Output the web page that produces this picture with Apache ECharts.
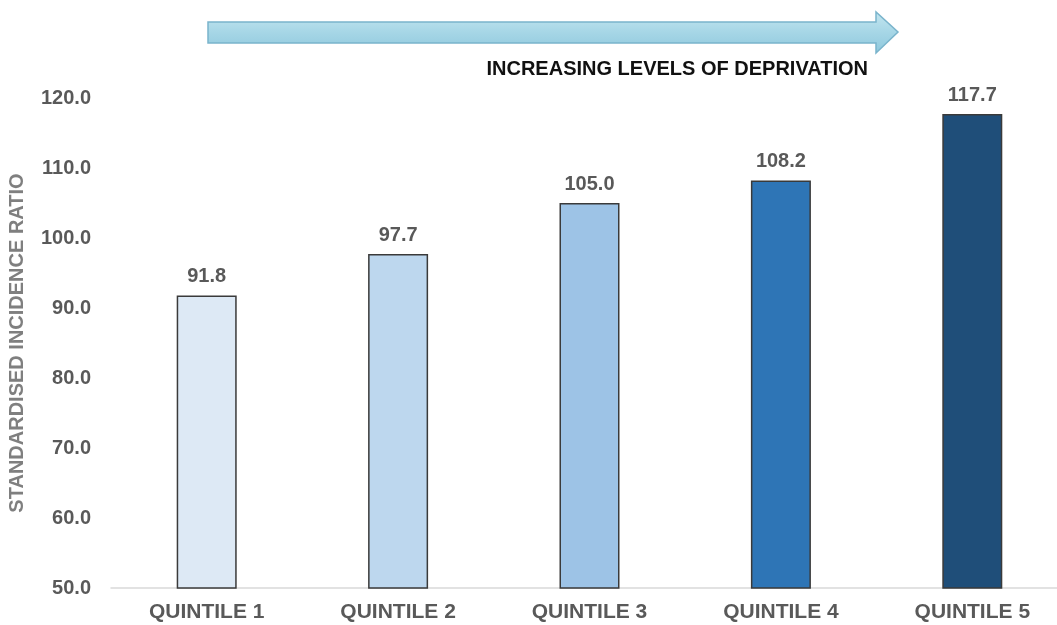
<!DOCTYPE html>
<html>
<head>
<meta charset="utf-8">
<script src="https://cdn.jsdelivr.net/npm/echarts@6/dist/echarts.min.js"></script>
<style>
  html, body { margin: 0; padding: 0; background: #fff; }
  #main { width: 1057px; height: 625px; }
</style>
</head>
<body>
<div id="main"></div>
<script>
var categories = ['QUINTILE 1', 'QUINTILE 2', 'QUINTILE 3', 'QUINTILE 4', 'QUINTILE 5'];
var values = [91.8, 97.7, 105.0, 108.2, 117.7];
var barColors = ['#dde9f5', '#bdd7ee', '#9dc3e6', '#2e75b6', '#1f4e79'];
var yTicks = { min: 50, max: 120, interval: 10 };

var labelGray = '#595959';
var fontFam = '"Liberation Sans", Arial, sans-serif';

var myChart = echarts.init(document.getElementById('main'));

var option = {
    backgroundColor: '#ffffff',
    animation: false,
    grid: {
        left: 111,
        right: -11,
        top: 98,
        bottom: 37,
        containLabel: false,
        outerBoundsMode: 'none'
    },
    xAxis: {
        type: 'category',
        data: categories,
        axisLine: { lineStyle: { color: '#d9d9d9', width: 1.5 } },
        axisTick: { show: false },
        axisLabel: {
            color: labelGray,
            fontFamily: fontFam,
            fontWeight: 'bold',
            fontSize: 21,
            margin: 14
        }
    },
    yAxis: {
        type: 'value',
        min: yTicks.min,
        max: yTicks.max,
        interval: yTicks.interval,
        name: 'STANDARDISED INCIDENCE RATIO',
        nameLocation: 'middle',
        nameGap: 84,
        nameRotate: 90,
        nameTextStyle: {
            color: '#7f7f7f',
            fontFamily: fontFam,
            fontWeight: 'bold',
            fontSize: 20
        },
        axisLine: { show: false },
        axisTick: { show: false },
        splitLine: { show: false },
        axisLabel: {
            color: labelGray,
            fontFamily: fontFam,
            fontWeight: 'bold',
            fontSize: 20,
            margin: 20,
            formatter: function (v) { return v.toFixed(1); }
        }
    },
    series: [{
        type: 'bar',
        barWidth: 60,
        data: values.map(function (v, i) {
            return {
                value: v,
                itemStyle: { color: barColors[i] }
            };
        }),
        itemStyle: {
            borderColor: '#3a3a3a',
            borderWidth: 1.5
        },
        label: {
            show: true,
            position: 'top',
            distance: 9,
            color: labelGray,
            fontFamily: fontFam,
            fontWeight: 'bold',
            fontSize: 20,
            formatter: function (p) { return p.value.toFixed(1); }
        }
    }],
    graphic: [
        {
            type: 'polygon',
            shape: {
                points: [[208, 22], [876, 22], [876, 12], [898, 32], [876, 53], [876, 43], [208, 43]]
            },
            style: {
                fill: new echarts.graphic.LinearGradient(0, 0, 0, 1, [
                    { offset: 0, color: '#c4e6f0' },
                    { offset: 0.5, color: '#a6d6e6' },
                    { offset: 1, color: '#8ec8dc' }
                ]),
                stroke: '#7ab4cc',
                lineWidth: 1.5
            }
        },
        {
            type: 'text',
            right: 1057 - 868,
            top: 59,
            style: {
                text: 'INCREASING LEVELS OF DEPRIVATION',
                fill: '#111111',
                font: 'bold 20px "Liberation Sans", Arial, sans-serif'
            }
        }
    ]
};

myChart.setOption(option);
</script>
</body>
</html>
